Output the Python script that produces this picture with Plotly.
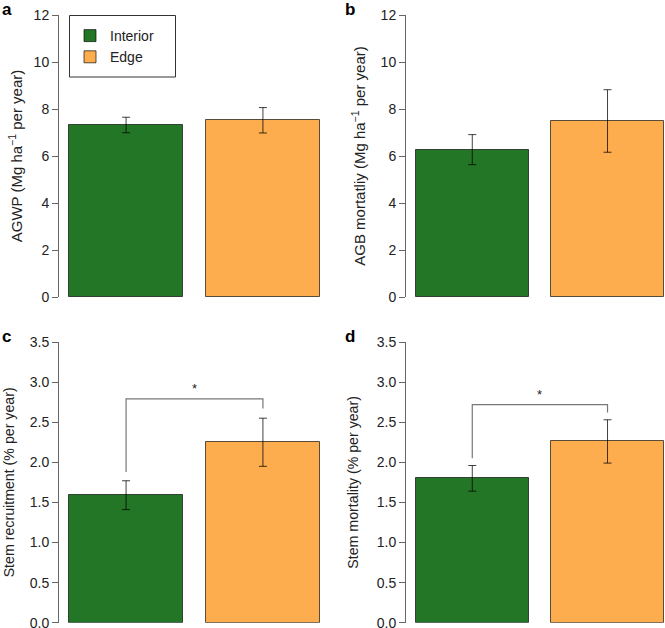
import plotly.graph_objects as go

# ---------------- data ----------------
groups = ["Interior", "Edge"]
colors = ["#247627", "#FDAD4E"]

agwp_mean = [7.32, 7.52]
agwp_err = [0.33, 0.54]

agb_mort_mean = [6.27, 7.49]
agb_mort_err = [0.64, 1.33]

stem_recr_mean = [1.59, 2.25]
stem_recr_err = [0.18, 0.30]

stem_mort_mean = [1.80, 2.26]
stem_mort_err = [0.16, 0.27]

# significance brackets (panel c, d): level, left leg end, right leg end
sig_c = {"level": 2.79, "left_end": 1.88, "right_end": 2.67, "label": "*"}
sig_d = {"level": 2.72, "left_end": 2.05, "right_end": 2.62, "label": "*"}

y_titles = [
    "AGWP (Mg ha<sup>−1</sup> per year)",
    "AGB mortatliy (Mg ha<sup>−1</sup> per year)",
    "Stem recruitment (% per year)",
    "Stem mortality (% per year)",
]
panel_letters = ["a", "b", "c", "d"]
y_ranges = [[0, 12], [0, 12], [0, 3.5], [0, 3.5]]
y_dticks = [2, 2, 0.5, 0.5]
y_formats = ["d", "d", ".1f", ".1f"]
title_sizes = [15, 15, 14.2, 14.2]
title_standoffs = [7, 11, 11, 14]

# ---------------- layout geometry ----------------
W, H = 665, 628
bar_width = 1.0
space = 0.2
centers = [space + bar_width / 2 + i * (bar_width + space) for i in range(len(groups))]
x_lo = space - 0.088
x_hi_full = centers[-1] + bar_width / 2 + 0.088

dom_x = [[59 / W, 330 / W], [406 / W, 1.0]]
dom_y_top = [(H - 297) / H, (H - 15) / H]
dom_y_bot = [(H - 622.7) / H, (H - 342) / H]

fig = go.Figure()

panels = [
    (agwp_mean, agwp_err),
    (agb_mort_mean, agb_mort_err),
    (stem_recr_mean, stem_recr_err),
    (stem_mort_mean, stem_mort_err),
]

for p, (means, errs) in enumerate(panels):
    ax = "" if p == 0 else str(p + 1)
    for i, g in enumerate(groups):
        fig.add_trace(go.Bar(
            x=[centers[i]], y=[means[i]], width=bar_width,
            name=g, legendgroup=g, showlegend=(p == 0),
            marker=dict(color=colors[i], line=dict(color="rgba(0,0,0,0.65)", width=1)),
            error_y=dict(type="data", array=[errs[i]], visible=True,
                         color="rgba(0,0,0,0.75)", thickness=1, width=4),
            xaxis="x" + ax, yaxis="y" + ax,
            hoverinfo="skip",
        ))

# significance brackets
for p, sig in [(2, sig_c), (3, sig_d)]:
    ax = str(p + 1)
    fig.add_trace(go.Scatter(
        x=[centers[0], centers[0], centers[1], centers[1]],
        y=[sig["left_end"], sig["level"], sig["level"], sig["right_end"]],
        mode="lines", line=dict(color="#777777", width=1.2),
        showlegend=False, hoverinfo="skip",
        xaxis="x" + ax, yaxis="y" + ax, cliponaxis=False,
    ))
    fig.add_annotation(
        x=(centers[0] + centers[1]) / 2, y=sig["level"], xref="x" + ax, yref="y" + ax,
        text=sig["label"], showarrow=False, yanchor="bottom", yshift=1,
        font=dict(size=13, color="#222"),
    )

FAM = "Liberation Sans, Arial, sans-serif"
axis_font = dict(family=FAM, size=14, color="#222")

layout = dict(
    width=W, height=H,
    margin=dict(l=0, r=0, t=0, b=0),
    paper_bgcolor="white", plot_bgcolor="white",
    bargap=0, barmode="overlay",
    font=dict(family=FAM, color="#222"),
    showlegend=True,
    legend=dict(
        x=70 / W, y=(H - 20) / H, xanchor="left", yanchor="top",
        borderwidth=0, bgcolor="rgba(0,0,0,0)",
        font=dict(size=14, color="#222"),
        itemwidth=30,
        traceorder="normal",
    ),
    shapes=[dict(
        type="rect", xref="paper", yref="paper",
        x0=69.5 / W, x1=175.5 / W, y0=(H - 77) / H, y1=(H - 15.5) / H,
        line=dict(color="#333", width=1), fillcolor="white", layer="below",
    )],
)

for p in range(4):
    key = "" if p == 0 else str(p + 1)
    col = p % 2
    row_dom = dom_y_top if p < 2 else dom_y_bot
    x_hi = x_hi_full if col == 0 else 2.41
    layout["xaxis" + key] = dict(
        domain=dom_x[col], range=[x_lo, x_hi], visible=False,
        anchor="y" + key, fixedrange=True,
    )
    layout["yaxis" + key] = dict(
        domain=row_dom, range=y_ranges[p], dtick=y_dticks[p], tick0=0,
        tickformat=y_formats[p], showgrid=False, zeroline=False,
        showline=True, linecolor="#666", linewidth=1,
        ticks="outside", ticklen=6, tickcolor="#666", tickwidth=1,
        tickfont=axis_font, anchor="x" + key, ticklabeloverflow="allow",
        title=dict(text=y_titles[p], font=dict(family=FAM, size=title_sizes[p], color="#222"),
                   standoff=title_standoffs[p]),
        automargin=False, fixedrange=True,
    )
    fig.add_annotation(
        x=(0 if col == 0 else 343 / W), y=row_dom[1] + 5 / H,
        xref="paper", yref="paper", xanchor="left", yanchor="middle",
        text="<b>" + panel_letters[p] + "</b>", showarrow=False,
        font=dict(size=17, color="#000", family=FAM),
    )

fig.update_layout(**layout)
fig.write_html(
    "out.html",
    config={"displayModeBar": False},
    post_script="document.body.style.margin='0';document.body.style.overflow='hidden';",
)
